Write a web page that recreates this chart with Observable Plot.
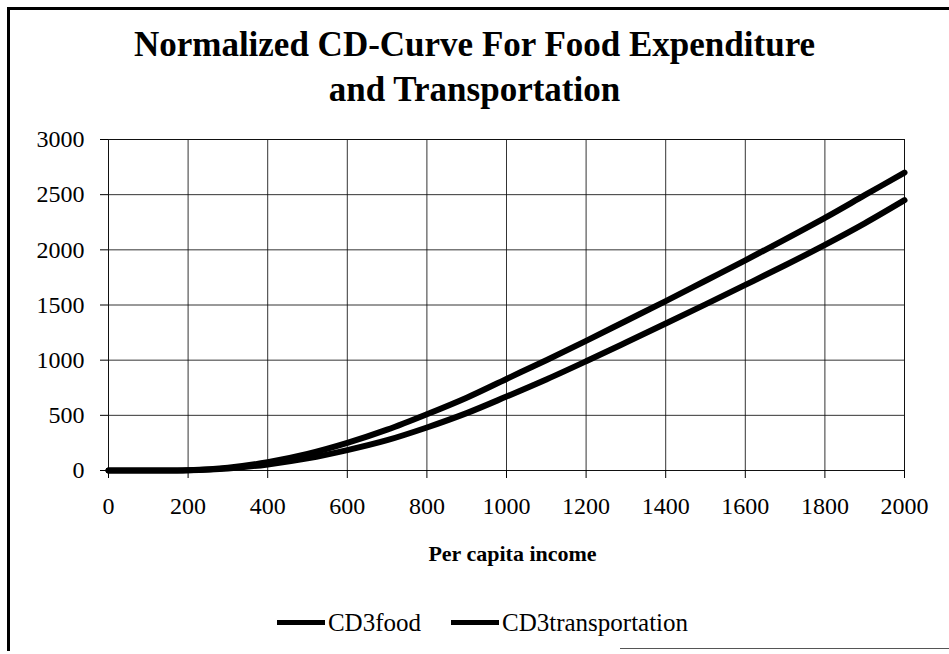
<!DOCTYPE html>
<html><head><meta charset="utf-8">
<script src="https://cdn.jsdelivr.net/npm/d3@7"></script>
<script src="https://cdn.jsdelivr.net/npm/@observablehq/plot@0.6"></script>
<style>
body{margin:0;background:#fff;font-family:"Liberation Serif","Times New Roman",serif;}
#chart{position:relative;width:949px;height:654px;overflow:hidden;background:#fff;}
#frame{position:absolute;left:7px;top:7px;width:942px;height:644px;border-left:3px solid #000;border-top:3px solid #000;box-sizing:border-box;pointer-events:none}
#bottomline{position:absolute;left:620px;top:648px;width:329px;height:0;border-top:1px solid #555}
#title{height:120px;box-sizing:border-box;padding-top:22px;text-align:center;font-weight:bold;font-size:35px;line-height:45px;color:#000}
#legend{height:84px;box-sizing:border-box;padding-top:33px;text-align:center;font-size:25px;line-height:28px;color:#000;padding-left:16px}
.item{display:inline-flex;align-items:center;margin:0 15px}
.sw{display:inline-block;width:48px;height:5px;background:#000;margin-right:3px}
svg{display:block}
</style>
</head><body>
<div id="chart">
<div id="frame"></div>
<div id="bottomline"></div>
<div id="title">Normalized CD-Curve For Food Expenditure<br>and Transportation</div>
<div id="plot"></div>
<div id="legend"></div>
</div>
<script>
const income = [0,100,200,300,400,500,600,700,800,900,1000,1100,1200,1300,1400,1500,1600,1700,1800,1900,2000];
const cd3food = [0,0,2,18,55,110,185,275,390,520,670,825,990,1160,1332,1506,1682,1860,2045,2240,2450];
const cd3transportation = [0,0,3,25,75,150,250,370,510,660,830,1000,1175,1355,1535,1720,1905,2095,2290,2495,2700];
const seriesNames = ["CD3food","CD3transportation"];
const xTicks = [0,200,400,600,800,1000,1200,1400,1600,1800,2000];
const yTicks = [0,500,1000,1500,2000,2500,3000];

const rows = [];
income.forEach((x,i)=>{
  rows.push({x, y: cd3food[i], s: seriesNames[0]});
  rows.push({x, y: cd3transportation[i], s: seriesNames[1]});
});

const font = '"Liberation Serif","Times New Roman",serif';
const chart = Plot.plot({
  width: 949,
  height: 450,
  marginLeft: 108,
  marginRight: 45,
  marginTop: 19,
  marginBottom: 100,
  style: {fontFamily: font, fontSize: "24px", color: "#000", background: "transparent", overflow: "visible"},
  x: {domain: [0,2000]},
  y: {domain: [0,3000]},
  marks: [
    Plot.gridX(xTicks, {stroke: "#111", strokeOpacity: 0.85, strokeWidth: 1}),
    Plot.gridY(yTicks, {stroke: "#111", strokeOpacity: 0.85, strokeWidth: 1}),
    Plot.frame({stroke: "#111", strokeWidth: 1}),
    Plot.axisX({ticks: xTicks, tickSize: 8, tickPadding: 18, tickFormat: d=>String(d), fontSize: 24,
      label: "Per capita income", labelAnchor: "center", labelArrow: "none", labelOffset: 90}),
    Plot.axisY({ticks: yTicks, tickSize: 8, tickPadding: 16, tickFormat: d=>String(d), fontSize: 24, label: null}),
    Plot.line(rows, {x: "x", y: "y", z: "s", stroke: "#000", strokeWidth: 6, curve: "catmull-rom", strokeLinecap: "round"})
  ]
});
chart.querySelectorAll('g[aria-label="x-axis label"] text').forEach(t=>{t.setAttribute("font-weight","bold");t.setAttribute("font-size","22");t.setAttribute("dx","6");});
document.getElementById("plot").appendChild(chart);

const leg = document.getElementById("legend");
seriesNames.forEach(n=>{
  const it = document.createElement("span"); it.className="item";
  const sw = document.createElement("span"); sw.className="sw";
  it.appendChild(sw); it.appendChild(document.createTextNode(n));
  leg.appendChild(it);
});
</script>
</body></html>
